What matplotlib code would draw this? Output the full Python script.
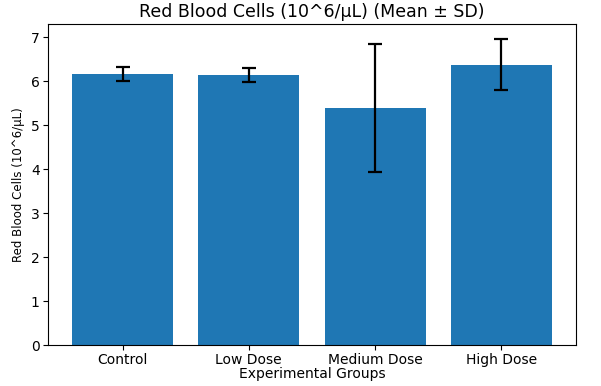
import matplotlib.pyplot as plt

# ==========================================
# Data
# ==========================================

groups = ["Control", "Low Dose", "Medium Dose", "High Dose"]
rbc_mean = [6.17, 6.15, 5.39, 6.38]
rbc_sd = [0.15, 0.155, 1.45, 0.58]

# ==========================================
# Plot
# ==========================================

fig = plt.figure(figsize=(6.01, 3.86), dpi=100)
ax = fig.add_axes([0.08, 0.106, 0.878, 0.832])

ax.bar(
    groups,
    rbc_mean,
    yerr=rbc_sd,
    color="#1f77b4",
    capsize=5,
    error_kw={"elinewidth": 1.6, "capthick": 1.6, "ecolor": "black"}
)

ax.set_title("Red Blood Cells (10^6/μL) (Mean ± SD)", fontsize=12.5, pad=5)
ax.set_xlabel("Experimental Groups", fontsize=10, labelpad=0)
ax.set_ylabel("Red Blood Cells (10^6/μL)", fontsize=8.5)
ax.tick_params(labelsize=10, pad=2.5)

fig.savefig("out.png", dpi=100)
